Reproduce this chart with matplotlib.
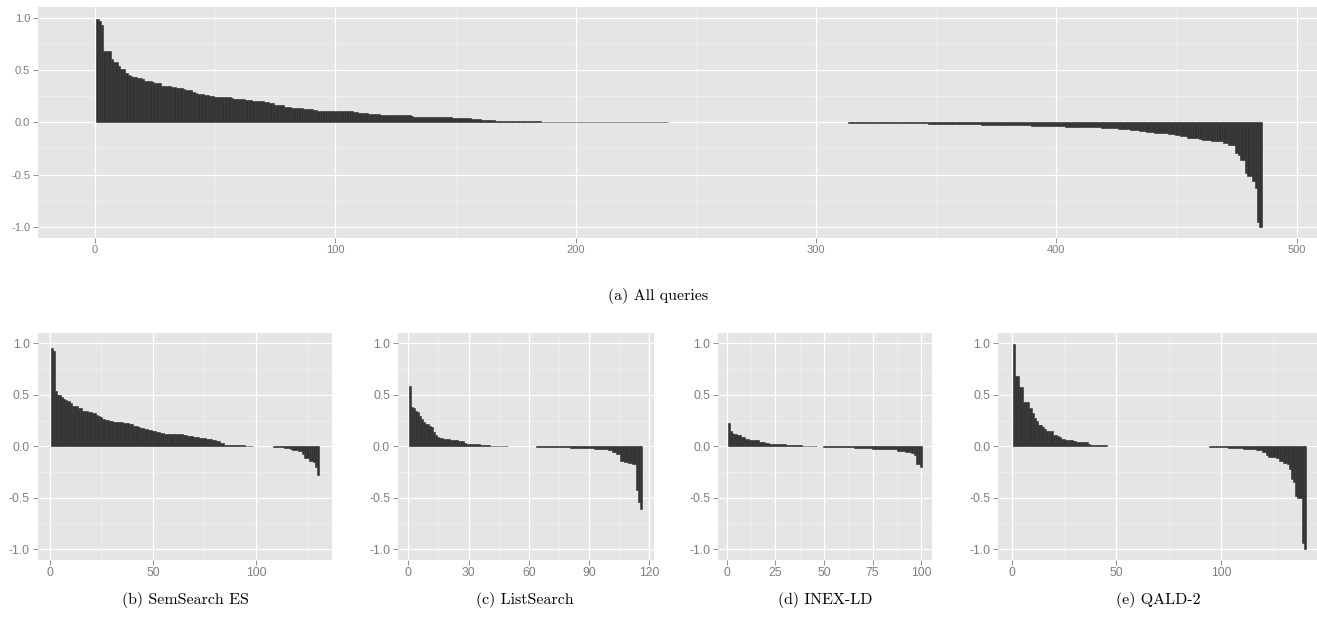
import numpy as np
import matplotlib
matplotlib.use("Agg")
import matplotlib.pyplot as plt

# ggplot-ish look
plt.rcParams['font.family'] = 'Liberation Sans'
PANEL_BG = '#E5E5E5'
BAR = '#333333'
TICK = '#7F7F7F'

# run-length data (value, count), sorted descending as in the figure
ALL_VALUES = [0.99, 0.965, 0.93, 0.68, 0.60, 0.58, 0.54, 0.51, 0.47, 0.45, 0.44, 0.43,
              0.42, 0.41, 0.39, 0.385, 0.375, 0.345, 0.337, 0.327, 0.317, 0.307, 0.288,
              0.279, 0.269, 0.26, 0.25, 0.24, 0.23, 0.22, 0.21, 0.20, 0.19, 0.18, 0.165,
              0.145, 0.135, 0.125, 0.115, 0.106, 0.096, 0.087, 0.077, 0.067, 0.058, 0.048,
              0.038, 0.03, 0.026, 0.016, 0.013, 0.007, 0.004, 0.002, 0.0,
              -0.01, -0.02, -0.03, -0.038, -0.048, -0.058, -0.067, -0.077, -0.087, -0.096,
              -0.106, -0.115, -0.125, -0.135, -0.154, -0.163, -0.173, -0.183, -0.202, -0.22,
              -0.29, -0.317, -0.356, -0.48, -0.51, -0.56, -0.625, -0.95, -1.0]
ALL_COUNTS = [1, 1, 1, 3, 1, 2, 1, 2, 1, 1, 1, 2,
              2, 1, 3, 1, 3, 4, 2, 3, 1, 3, 1,
              1, 3, 2, 2, 7, 1, 5, 3, 5, 2, 2, 4,
              3, 5, 4, 2, 15, 2, 4, 5, 13, 1, 16,
              8, 4, 6, 6, 13, 12, 23, 18, 75,
              33, 22, 21, 14, 15, 7, 5, 4, 3, 3,
              6, 3, 2, 3, 5, 1, 4, 5, 2, 3,
              1, 1, 2, 1, 2, 1, 1, 1, 1]

SEM_VALUES = [0.956, 0.924, 0.54, 0.50, 0.48, 0.46, 0.45, 0.44, 0.42, 0.39, 0.37, 0.34,
              0.33, 0.32, 0.30, 0.29, 0.28, 0.27, 0.26, 0.25, 0.24, 0.23, 0.22, 0.20, 0.19,
              0.18, 0.17, 0.16, 0.15, 0.14, 0.13, 0.12, 0.11, 0.10, 0.09, 0.08, 0.07, 0.06,
              0.05, 0.03, 0.016, 0.013, 0.007, 0.0, -0.01, -0.02, -0.03, -0.04, -0.05,
              -0.07, -0.11, -0.14, -0.155, -0.20, -0.275]
SEM_COUNTS = [1, 1, 1, 2, 1, 1, 1, 1, 1, 3, 2, 3,
              2, 2, 1, 1, 1, 1, 2, 2, 5, 3, 2, 2, 1,
              2, 2, 2, 2, 2, 2, 9, 2, 3, 3, 3, 3, 2,
              2, 2, 5, 5, 4, 10, 5, 3, 1, 3, 2,
              1, 2, 2, 1, 1, 1]

LIST_VALUES = [0.59, 0.386, 0.37, 0.34, 0.33, 0.295, 0.266, 0.237, 0.214, 0.198, 0.188,
               0.143, 0.11, 0.094, 0.081, 0.071, 0.065, 0.058, 0.049, 0.036, 0.026, 0.019,
               0.013, 0.006, 0.0, -0.003, -0.006, -0.013, -0.02, -0.023, -0.03, -0.04,
               -0.055, -0.07, -0.14, -0.155, -0.165, -0.17, -0.425, -0.545, -0.605]
LIST_COUNTS = [1, 1, 1, 1, 1, 1, 1, 1, 2, 1, 1,
               1, 1, 1, 2, 3, 2, 2, 3, 1, 4, 3,
               5, 9, 14, 12, 5, 7, 5, 3, 4, 2,
               2, 2, 2, 2, 2, 2, 1, 1, 1]

INEX_VALUES = [0.227, 0.15, 0.13, 0.117, 0.11, 0.094, 0.075, 0.058, 0.045, 0.036, 0.026,
               0.02, 0.013, 0.006, 0.0, -0.003, -0.01, -0.016, -0.023, -0.03, -0.042,
               -0.055, -0.068, -0.088, -0.175, -0.2]
INEX_COUNTS = [1, 1, 1, 2, 2, 2, 2, 5, 3, 2, 4,
               5, 8, 8, 3, 9, 7, 9, 8, 5, 4,
               3, 2, 1, 2, 1]

QALD_VALUES = [0.995, 0.68, 0.58, 0.43, 0.37, 0.32, 0.276, 0.243, 0.207, 0.19, 0.17, 0.152,
               0.11, 0.10, 0.09, 0.075, 0.065, 0.052, 0.039, 0.026, 0.016, 0.013, 0.0,
               -0.01, -0.013, -0.016, -0.023, -0.03, -0.04, -0.055, -0.085, -0.105, -0.117,
               -0.143, -0.162, -0.172, -0.218, -0.318, -0.35, -0.48, -0.5, -0.935, -1.0]
QALD_COUNTS = [1, 2, 2, 3, 1, 1, 1, 1, 2, 1, 1, 3,
               2, 1, 1, 2, 4, 1, 6, 1, 4, 4, 49,
               9, 5, 2, 4, 2, 3, 2, 1, 4, 1,
               2, 2, 1, 1, 1, 1, 1, 2, 1, 1]

CAPTIONS = ['(a) All queries', '(b) SemSearch ES', '(c) ListSearch', '(d) INEX-LD', '(e) QALD-2']

W, H = 1317, 623
fig = plt.figure(figsize=(W / 100, H / 100), dpi=100)
fig.patch.set_facecolor('white')


def px_axes(x0, x1, y0, y1):
    # pixel box (top-left origin) -> figure axes
    return fig.add_axes([x0 / W, (H - y1) / H, (x1 - x0) / W, (y1 - y0) / H])


def panel(ax, values, counts, major, minor, fs):
    y = np.repeat(values, counts)
    x = np.arange(1, len(y) + 1)
    # thin outline so near-zero bars still show as a line, like the original
    edges = [BAR if v != 0 else 'none' for v in y]
    ax.bar(x, y, width=1.0, color=BAR, edgecolor=edges, linewidth=0.4, zorder=3)
    n = len(y)
    pad = 0.05 * n
    ax.set_xlim(0.5 - pad, n + 0.5 + pad)
    ax.set_ylim(-1.1, 1.1)
    ax.set_facecolor(PANEL_BG)
    for s in ax.spines.values():
        s.set_visible(False)
    ax.set_xticks(major)
    ax.set_xticks(minor, minor=True)
    ax.set_yticks([-1.0, -0.5, 0.0, 0.5, 1.0])
    ax.set_yticks([-0.75, -0.25, 0.25, 0.75], minor=True)
    ax.set_yticklabels(['-1.0', '-0.5', '0.0', '0.5', '1.0'])
    ax.set_xticklabels([str(v) for v in major])
    ax.grid(which='major', color='white', linewidth=0.9, zorder=0)
    ax.grid(which='minor', color='#F2F2F2', linewidth=0.45, zorder=0)
    ax.set_axisbelow(True)
    ax.tick_params(which='major', length=3.5, width=0.6, color=TICK,
                   labelcolor=TICK, labelsize=fs, pad=2)
    ax.tick_params(which='minor', length=0)


ax_a = px_axes(38, 1320, 7.1, 237.5)
panel(ax_a, ALL_VALUES, ALL_COUNTS, [0, 100, 200, 300, 400, 500],
      [50, 150, 250, 350, 450], 8.0)

ax_b = px_axes(37.6, 332.2, 333.1, 559.5)
panel(ax_b, SEM_VALUES, SEM_COUNTS, [0, 50, 100], [25, 75, 125], 8.7)

ax_c = px_axes(397.7, 653.9, 333.1, 559.5)
panel(ax_c, LIST_VALUES, LIST_COUNTS, [0, 30, 60, 90, 120], [15, 45, 75, 105], 8.7)

ax_d = px_axes(717.9, 932.0, 333.1, 559.5)
panel(ax_d, INEX_VALUES, INEX_COUNTS, [0, 25, 50, 75, 100], [12.5, 37.5, 62.5, 87.5], 8.7)

ax_e = px_axes(998.1, 1320.4, 333.1, 559.5)
panel(ax_e, QALD_VALUES, QALD_COUNTS, [0, 50, 100], [25, 75, 125], 8.7)

cap_pos = [(658, 296), (185, 600), (525, 600), (825, 600), (1158, 600)]
for (cx, cy), txt in zip(cap_pos, CAPTIONS):
    fig.text(cx / W, 1 - cy / H, txt, ha='center', va='center',
             fontsize=11.5, family='cmr10', color='black')

fig.savefig('out.png', dpi=100, facecolor='white')
